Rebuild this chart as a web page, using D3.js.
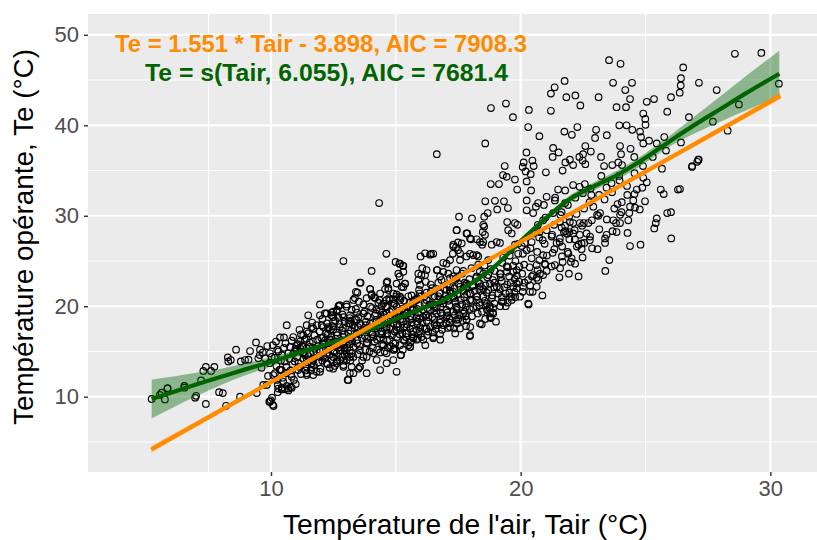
<!DOCTYPE html>
<html><head><meta charset="utf-8">
<script src="https://cdn.jsdelivr.net/npm/d3@7"></script>
<style>body{margin:0;background:#fff}svg{display:block}</style></head>
<body><svg id="c" width="817" height="540"></svg>
<script>
const obsUpper = [[16.64,36.8],[18.58,38.0],[18.81,41.9],[19.41,42.4],[19.69,40.9],[20.33,41.7],[20.3,39.8],[20.75,38.8],[21.21,43.5],[21.36,44.2],[21.21,41.6],[21.76,44.9],[21.83,43.1],[22.19,43.3],[22.39,42.2],[21.75,39.3],[22.05,38.95],[22.27,39.8],[22.59,37.7],[23.12,43.1],[23.54,47.2],[24.0,46.8],[23.7,44.7],[23.84,42.0],[24.19,43.9],[24.38,42.9],[24.22,42.0],[24.46,44.7],[23.95,40.0],[24.24,40.0],[24.47,39.5],[24.78,39.3],[24.82,38.7],[24.91,38.0],[25.14,38.3],[25.05,42.6],[25.34,42.9],[24.91,41.3],[24.99,40.7],[25.0,40.05],[25.87,41.5],[26.02,43.1],[26.37,43.6],[26.41,44.4],[26.42,45.2],[26.51,46.4],[27.14,44.7],[27.85,43.9],[26.74,40.9],[27.7,40.4],[28.58,47.9],[29.64,48.0],[28.74,42.3],[28.29,39.4],[30.34,44.6],[26.42,38.1],[25.75,38.7],[25.45,38.0],[25.82,37.2],[25.66,35.2],[24.9,35.5],[25.29,36.5],[24.91,34.2],[26.87,35.5],[27.13,36.2],[25.61,32.9],[25.73,32.4],[26.3,32.9],[24.55,36.5],[24.4,37.4],[23.98,37.7],[24.02,36.8],[23.91,35.9],[24.06,35.6],[23.67,35.6],[23.45,38.9],[23.22,36.5],[23.34,35.5],[23.02,39.5],[22.98,38.6],[22.81,37.1],[22.48,36.1],[22.59,35.7],[22.35,36.5],[22.5,36.8],[22.1,35.6],[21.97,36.2],[21.79,35.9],[21.3,37.5],[21.28,36.5],[21.52,37.0],[21.01,34.8],[20.47,36.1],[20.52,35.5],[20.4,34.6],[20.12,35.9],[20.23,37.0],[20.08,35.4],[20.2,34.9],[19.36,35.5],[19.29,34.5],[19.44,34.3],[19.77,34.0],[20.24,33.8],[18.8,33.5],[19.13,33.5],[19.86,32.9],[20.42,32.8],[21.68,35.0],[22.1,33.4],[22.36,33.2],[22.57,33.5],[22.8,33.0],[22.83,32.3],[23.23,34.4],[23.64,33.6],[24.27,32.3],[24.56,32.4],[24.87,33.1],[23.94,34.4],[21.5,32.9],[21.78,32.8],[21.04,32.1],[21.38,32.0],[27.11,36.2],[27.07,35.97],[26.86,35.4],[26.38,32.95],[14.33,31.4]];
const obsMiddle = [[14.62,25.8],[14.99,24.9],[15.14,24.7],[15.28,24.5],[15.3,23.8],[15.15,23.3],[15.37,22.5],[14.66,22.75],[14.57,21.9],[17.53,29.9],[18.05,29.7],[18.54,29.9],[18.68,30.3],[18.58,31.6],[18.97,31.65],[19.33,31.6],[19.06,30.7],[19.49,30.85],[17.44,28.4],[17.86,28.05],[18.01,27.4],[17.49,27.06],[17.3,26.6],[17.49,26.2],[18.37,27.1],[18.48,28.2],[18.54,28.8],[18.46,26.8],[17.28,25.8],[17.17,25.1],[16.9,24.8],[16.5,25.8],[16.41,25.8],[15.99,25.5],[16.06,24.2],[15.9,23.6],[16.02,23.45],[16.66,24.0],[16.77,23.3],[17.1,23.6],[17.57,25.1],[17.37,22.9],[17.97,25.8],[18.24,25.65],[18.84,26.8],[19.04,27.1],[19.17,27.0],[19.46,29.3],[19.77,29.2],[19.87,29.0],[19.5,28.4],[19.64,28.05],[19.77,26.8],[20.04,26.65],[19.9,25.8],[20.24,26.2],[20.24,30.6],[20.5,30.3],[20.61,31.0],[20.24,31.7],[20.7,31.4],[20.93,31.2],[21.37,31.7],[21.78,31.4],[20.9,29.5],[20.75,28.2],[20.88,27.3],[20.5,28.05],[20.44,27.1],[21.24,27.7],[21.44,27.0],[21.57,27.5],[21.73,28.2],[21.97,29.3],[22.1,29.2],[22.37,29.2],[22.53,29.2],[22.71,29.2],[21.79,28.3],[21.95,28.2],[22.1,28.05],[22.37,27.9],[22.17,27.4],[22.32,26.8],[22.44,26.3],[22.44,26.95],[22.77,27.3],[22.64,28.05],[22.86,26.4],[21.66,26.6],[21.91,25.8],[22.04,25.3],[22.01,24.9],[21.68,24.9],[21.37,24.55],[21.24,24.4],[21.04,23.9],[21.55,23.2],[21.93,23.6],[22.32,23.3],[20.3,22.9],[20.64,23.15],[20.48,21.6],[20.87,21.2],[20.32,20.2],[19.94,22.7],[19.7,22.15],[19.57,21.05],[19.64,20.7],[19.4,21.4],[19.24,20.5],[23.39,23.9],[23.55,25.1],[23.38,27.5],[23.44,27.9],[23.84,28.2],[23.71,29.5],[23.82,29.2],[24.31,29.5],[24.38,31.0],[24.51,31.7],[23.88,31.3],[24.04,30.4],[23.98,30.1],[24.77,30.7],[24.38,26.65],[24.8,26.8],[25.45,29.7],[25.41,29.2],[25.35,28.6],[25.87,30.3],[26.02,30.4],[26.03,27.5],[23.11,30.0],[22.91,31.0],[23.18,30.3],[21.57,29.3],[21.78,28.9],[21.3,30.3],[21.64,30.4],[18.77,20.0],[18.9,19.2],[18.8,18.7],[19.01,18.3],[18.44,18.0],[17.97,16.7],[17.81,17.8],[17.57,17.55],[17.33,17.55],[16.5,16.6],[15.57,15.5],[15.21,14.6],[14.94,15.2],[15.7,16.45],[16.03,16.6],[18.24,23.3],[18.37,22.5],[18.5,21.9],[18.7,23.45],[18.77,22.5],[19.17,23.6],[19.04,22.15],[19.44,24.4],[19.7,23.8]];
const obsLeft = [[5.22,9.75],[5.55,10.2],[5.75,9.7],[5.85,10.9],[5.62,10.45],[6.53,11.0],[7.0,10.1],[6.96,9.9],[7.2,11.8],[7.29,12.85],[7.39,13.3],[7.6,12.85],[7.73,13.3],[7.39,9.2],[7.92,10.5],[8.07,10.4],[8.27,14.35],[8.39,14.05],[8.29,13.9],[8.6,15.2],[8.76,10.0],[8.2,9.0],[8.79,13.9],[8.96,14.05],[9.1,14.1],[9.16,15.05],[9.4,16.0],[9.56,15.2],[9.67,14.9],[9.43,10.4],[9.69,11.3],[9.83,11.3],[9.49,14.25],[9.76,14.25],[9.96,14.8],[10.03,14.4],[10.1,8.97],[9.96,9.45],[10.16,12.6],[10.36,12.95],[10.07,15.7],[10.2,16.1],[10.36,16.55],[10.52,16.55],[10.63,17.9],[10.27,11.3],[10.29,10.9],[10.43,11.0],[10.63,11.2],[10.83,11.0],[10.92,11.85],[10.7,10.9],[10.49,11.65],[10.23,11.85],[10.89,14.8],[11.16,15.35],[11.29,15.5],[11.43,15.35],[11.56,14.8],[11.03,15.7],[11.29,16.8],[11.43,17.9],[11.43,13.3],[11.63,13.7],[11.83,12.75],[11.69,12.4],[11.43,12.4],[11.96,19.0],[11.49,19.0],[11.96,20.2],[11.69,17.55],[12.03,17.9],[12.29,17.7],[12.49,18.3],[12.09,16.6],[12.36,16.3],[12.63,16.1],[12.76,15.5],[12.96,15.15],[12.16,14.25],[12.43,14.05],[12.63,13.7],[12.9,13.3],[13.03,14.05],[13.23,13.3],[13.1,11.85],[13.3,12.6],[13.5,13.1],[12.76,20.1],[13.03,19.95],[13.16,19.0],[13.36,18.5],[13.1,18.1],[12.23,19.2],[12.43,19.0],[12.63,19.4],[5.86,10.95],[6.53,11.2],[9.99,9.6],[9.93,9.45],[10.07,9.1],[10.04,9.9],[10.27,10.5],[10.43,10.8],[10.56,10.85],[10.7,10.7],[10.79,11.1],[10.99,11.4],[13.07,11.85]];
const obsCore = [[12.73,20.1],[13.03,20.2],[13.3,20.7],[13.46,21.5],[13.59,22.6],[13.97,21.9],[14.03,21.2],[14.17,20.9],[14.63,22.6],[14.7,21.8],[14.9,21.4],[15.03,21.1],[12.16,19.2],[12.43,19.3],[12.7,18.8],[11.2,16.9],[11.43,17.2],[11.63,17.7],[11.83,17.9],[12.09,17.7],[12.29,17.55],[10.09,12.4],[10.43,12.95],[10.83,12.2],[11.09,12.95],[11.43,12.6],[11.63,13.25],[11.96,12.75],[12.23,13.7],[12.49,13.1],[12.76,14.05],[13.16,12.6],[13.56,13.3],[13.83,14.4],[14.23,14.05],[14.63,14.8],[14.97,15.35],[10.76,15.5],[11.03,15.15],[11.29,14.8],[11.56,15.5],[11.83,15.0],[12.09,15.9],[12.36,15.5],[12.63,16.1],[12.9,16.6],[13.16,16.3],[13.43,17.0],[13.7,17.4],[13.97,18.1],[14.23,18.5],[14.5,18.8],[14.76,19.4],[15.03,19.95],[10.89,16.6],[11.16,16.1],[11.43,14.05],[11.69,14.05],[11.96,14.4],[12.23,14.8],[12.49,14.4],[12.76,15.15],[13.03,14.8],[13.3,15.5],[13.56,15.15],[13.83,15.9],[14.1,16.6],[14.37,17.0],[14.63,17.4],[14.9,18.1],[13.43,18.5],[13.7,19.2],[13.97,19.95],[14.23,19.6],[14.5,20.3],[14.76,20.7],[14.37,21.4],[13.16,18.1],[12.76,17.7],[12.49,17.4],[12.9,18.8],[12.49,18.8],[14.63,13.7],[14.9,14.05],[15.03,12.75],[14.37,12.95],[13.83,12.6],[13.16,14.4],[12.9,13.5],[15.17,15.7],[15.17,17.4],[15.17,19.2],[15.17,21.05],
[12.9,25.0],[14.03,23.9],[13.56,22.6],[13.4,21.6],[13.36,20.9],[12.7,20.0],[12.49,19.4],[12.43,19.0],[13.97,21.9],[14.03,21.35],[14.34,20.7],[14.7,22.0],[15.17,24.7],[15.3,24.45],[15.1,23.6],[15.03,22.5],[15.23,22.15],[15.37,22.5],[15.9,22.9],[15.97,22.35],[16.17,23.45],[16.23,24.0],[16.17,25.85],[16.37,25.7],[16.64,24.0],[16.9,23.8],[17.03,24.7],[17.43,24.0],[17.17,23.1],[17.43,28.4],[17.83,28.05],[17.97,27.5],[18.24,27.4],[18.5,27.1],[18.57,27.9],[18.5,29.0],[17.3,26.8],[17.41,26.5],[17.64,26.95],[17.57,25.85],[17.83,25.5],[18.1,25.65],[18.3,25.5],[17.83,22.15],[17.97,21.4],[18.24,21.05],[18.5,21.05],[18.64,20.3],[18.24,19.95],[17.97,20.7],[17.83,18.5],[17.97,16.8],[18.37,18.1],[18.77,18.8],[18.9,19.8],[18.77,19.2],[19.3,20.5],[19.64,21.05],[19.97,21.05],[20.3,20.3],[20.37,21.6],[19.84,22.5],[20.1,22.15],[20.64,22.15],[20.5,23.45],[20.9,23.45],[20.7,22.9],[20.9,25.65],[20.64,24.55],[20.97,24.7],[20.77,23.6],[15.19,14.6],[14.9,15.2],[15.57,15.5],[14.5,15.7],[13.7,14.4],[14.1,14.8],[13.56,13.3],[12.9,14.05],[12.63,14.8],[13.16,15.15],[16.5,16.45],[16.37,17.7],[16.77,18.5],[15.97,17.7],[15.57,18.5],[17.03,18.8],[17.43,19.6],[17.7,19.2],[17.17,17.7],[16.77,16.95],[15.83,16.3],[15.43,17.0],[16.1,18.8],[15.7,19.6],[15.17,18.5],[16.23,20.7],[16.64,19.95],[15.83,20.7],[16.37,19.6],[15.43,19.95],[16.9,20.7],[17.3,21.05],[17.17,22.15],
[14.63,20.7],[14.9,20.3],[15.17,20.7],[15.43,19.95],[15.7,20.5],[15.97,21.05],[16.5,21.05],[16.77,21.4],[17.03,21.8],[17.3,21.6],[17.57,22.15],[17.83,22.5],[18.1,22.3],[14.63,19.2],[15.03,18.8],[15.43,19.2],[15.83,18.8],[16.23,19.0],[16.64,19.2],[17.03,19.6],[17.43,19.95],[17.83,20.3],[18.24,20.7],[14.63,17.7],[15.03,17.4],[15.43,17.7],[15.83,17.4],[16.23,17.55],[16.64,17.9],[17.03,18.1],[17.43,18.5],[17.83,18.5],[14.5,16.3],[14.9,15.9],[15.3,16.3],[15.7,16.6],[16.1,16.3]];
const obsDense = [[9.62,13.2],[9.55,14.6],[9.88,12.3],[9.94,13.7],[9.85,15.6],[10.22,13.4],[10.14,14.3],[10.25,15.2],[10.47,12.1],[10.55,13.9],[10.44,14.6],[10.58,15.9],[10.78,12.9],[10.86,13.6],[10.74,14.2],[10.83,16.2],[11.12,13.3],[11.05,14.4],[11.18,15.0],[11.08,15.8],[11.14,17.4],[11.38,12.9],[11.46,13.8],[11.35,14.6],[11.42,16.4],[11.48,17.0],[11.72,13.5],[11.66,14.2],[11.75,15.3],[11.68,16.1],[11.74,16.8],[11.65,18.2],[11.98,13.1],[12.05,14.0],[11.94,15.2],[12.07,15.8],[12.02,16.5],[11.95,17.2],[12.06,18.6],[12.27,13.6],[12.34,14.6],[12.25,15.4],[12.33,16.0],[12.28,16.9],[12.36,17.4],[12.24,18.1],[12.62,13.9],[12.55,14.9],[12.66,15.7],[12.58,16.4],[12.64,17.1],[12.57,18.4],[12.65,19.6],[12.87,14.4],[12.94,15.4],[12.85,15.9],[12.93,16.9],[12.88,17.6],[12.95,18.3],[12.86,19.1],[13.18,14.0],[13.25,14.8],[13.16,15.8],[13.24,16.6],[13.2,17.3],[13.27,17.9],[13.15,18.7],[13.23,19.6],[13.47,14.7],[13.55,15.6],[13.45,16.3],[13.53,16.9],[13.48,17.7],[13.56,18.1],[13.44,19.3],[13.52,20.5],[13.78,15.2],[13.85,16.0],[13.76,16.7],[13.84,17.3],[13.79,17.9],[13.86,18.9],[13.75,19.4],[13.83,20.9],[14.08,15.4],[14.15,16.1],[14.06,16.9],[14.14,17.5],[14.09,18.2],[14.16,19.0],[14.05,19.8],[14.13,21.0],[14.38,14.9],[14.45,15.8],[14.36,16.5],[14.44,17.2],[14.39,17.9],[14.46,18.6],[14.35,19.5],[14.43,20.0],[14.68,15.4],[14.75,16.3],[14.66,17.0],[14.74,17.6],[14.69,18.3],[14.76,19.0],[14.65,19.9],[14.73,20.9],[14.98,15.9],[15.05,16.6],[14.96,17.2],[15.04,18.0],[14.99,18.6],[15.06,19.2],[14.95,20.3],[15.03,21.3],[15.28,15.2],[15.35,16.2],[15.26,17.0],[15.34,17.7],[15.29,18.3],[15.36,19.0],[15.25,19.7],[15.33,20.6],[15.3,22.1],[15.58,16.0],[15.65,16.9],[15.56,17.5],[15.64,18.2],[15.59,18.9],[15.66,19.6],[15.55,20.4],[15.63,21.2],[15.88,16.4],[15.95,17.2],[15.86,18.0],[15.94,18.6],[15.89,19.3],[15.96,20.1],[15.85,20.9],[15.93,21.8],[16.18,15.7],[16.25,16.8],[16.16,17.5],[16.24,18.4],[16.19,19.0],[16.26,19.8],[16.15,20.3],[16.23,21.5],[16.2,22.7],[16.48,17.1],[16.55,18.0],[16.46,18.8],[16.54,19.5],[16.49,20.2],[16.56,21.1],[16.45,22.0],[16.78,16.3],[16.85,17.4],[16.76,18.2],[16.84,19.0],[16.79,19.9],[16.86,20.6],[16.75,21.5],[16.83,22.9],[17.08,17.6],[17.15,18.6],[17.06,19.3],[17.14,20.1],[17.09,20.9],[17.16,21.7],[17.05,22.4],[17.38,17.0],[17.45,18.1],[17.36,19.0],[17.44,19.8],[17.39,20.5],[17.46,21.3],[17.35,22.0],[17.43,23.1],[17.68,18.4],[17.75,19.4],[17.66,20.2],[17.74,21.0],[17.69,21.8],[17.76,22.6],[17.65,23.6],[17.98,17.7],[18.05,18.9],[17.96,19.7],[18.04,20.6],[17.99,21.4],[18.06,22.2],[17.95,23.0],[18.03,24.2],[18.28,19.2],[18.35,20.1],[18.26,21.1],[18.34,21.9],[18.29,22.7],[18.36,23.8],[18.58,18.6],[18.65,19.6],[18.56,20.6],[18.64,21.5],[18.59,22.3],[18.66,23.2],[18.55,24.5],[18.88,19.3],[18.95,20.3],[18.86,21.2],[18.94,22.1],[18.89,22.9],[18.96,23.9],[19.18,20.0],[19.25,21.0],[19.16,21.9],[19.24,22.8],[19.19,23.6],[19.26,24.8],[19.48,20.4],[19.55,21.5],[19.46,22.4],[19.54,23.3],[19.49,24.3],[19.56,25.6],[19.78,21.0],[19.85,22.0],[19.76,23.0],[19.84,24.0],[19.79,25.0],[20.08,21.6],[20.15,22.6],[20.06,23.6],[20.14,24.6],[20.09,25.8],[20.16,27.0],[20.38,22.3],[20.45,23.3],[20.36,24.3],[20.44,25.3],[20.39,26.4],[20.68,24.0],[20.75,25.1],[20.66,26.0],[20.74,27.6],[20.69,29.0],[20.98,24.6],[21.05,25.6],[20.96,26.9],[21.04,28.4],[20.99,29.8],[21.28,25.9],[21.35,26.3],[21.26,27.9],[21.34,29.0],[21.58,24.2],[21.65,25.5],[21.56,27.1],[21.64,28.7],[21.59,30.1],[21.88,26.0],[21.95,27.4],[21.86,28.0],[21.94,29.9],[21.89,31.2],[22.18,24.7],[22.25,26.6],[22.16,28.4],[22.24,30.2],[22.19,32.0],[22.48,25.4],[22.55,27.0],[22.46,28.9],[22.54,30.8],[22.49,32.5],[22.78,27.7],[22.85,29.5],[22.76,31.5],[23.08,26.3],[23.15,28.5],[23.06,30.1],[23.14,32.3],[23.38,27.0],[23.45,29.6],[23.36,31.8],[23.44,33.1],[23.68,28.3],[23.75,30.8],[23.66,32.6],[23.98,29.2],[24.05,31.5],[23.96,33.9],[24.28,28.1],[24.35,30.3],[24.26,33.3],[24.58,30.9],[24.65,32.9],[24.56,34.7],[24.98,31.6],[25.05,33.7]];
const obsDense2 = [[10.35,13.0],[10.62,13.3],[10.95,13.9],[10.4,14.0],[10.7,14.8],[10.98,15.3],[10.3,15.0],[10.52,15.4],[10.81,12.5],[10.6,12.6],[11.1,13.7],[11.3,14.2],[11.5,14.5],[11.7,14.9],[11.9,13.8],[11.25,15.6],[11.55,16.0],[11.85,16.3],[11.2,12.5],[11.6,12.9],[11.9,15.6],[11.35,16.3],[12.1,14.5],[12.3,15.2],[12.5,15.0],[12.7,15.4],[12.9,15.7],[12.15,16.2],[12.4,16.6],[12.65,16.8],[12.85,17.3],[12.2,17.0],[12.45,17.8],[12.75,18.0],[12.55,13.4],[12.95,14.6],[12.35,13.2],[13.05,15.4],[13.25,16.1],[13.45,15.9],[13.65,16.5],[13.85,16.4],[13.1,17.0],[13.35,17.6],[13.6,17.9],[13.9,17.6],[13.2,18.4],[13.5,18.8],[13.8,18.3],[13.3,14.4],[13.65,14.0],[13.95,15.0],[13.4,19.7],[13.7,20.2],[14.05,17.1],[14.25,16.3],[14.45,16.9],[14.65,16.2],[14.85,16.8],[14.15,17.8],[14.35,18.3],[14.55,17.6],[14.8,18.5],[14.2,19.2],[14.5,19.1],[14.85,19.6],[14.3,20.4],[14.6,20.0],[14.9,20.8],[14.25,15.2],[14.55,15.0],[14.8,15.6],[15.05,17.7],[15.25,18.6],[15.45,18.0],[15.65,18.7],[15.85,18.3],[15.1,19.5],[15.35,19.4],[15.6,19.9],[15.85,19.7],[15.2,20.9],[15.5,21.1],[15.75,20.7],[15.95,21.4],[15.15,16.9],[15.4,16.6],[15.7,17.2],[15.9,16.9],[15.5,15.7],[16.05,18.2],[16.3,18.8],[16.55,18.5],[16.8,19.3],[16.1,19.6],[16.35,20.2],[16.6,19.8],[16.9,20.3],[16.15,21.1],[16.4,21.6],[16.7,21.1],[16.95,21.9],[16.3,17.2],[16.6,17.5],[16.9,17.9],[16.4,22.4],[16.7,22.6],[17.05,19.0],[17.3,19.4],[17.55,19.0],[17.8,19.9],[17.1,20.6],[17.35,20.9],[17.6,20.7],[17.85,21.3],[17.2,21.5],[17.5,22.5],[17.75,22.3],[17.15,18.2],[17.5,18.6],[17.8,18.9],[17.3,23.3],[17.7,23.9],[18.1,19.8],[18.35,20.4],[18.6,20.1],[18.85,20.9],[18.15,21.7],[18.4,22.2],[18.7,21.8],[18.95,22.6],[18.2,23.1],[18.5,23.6],[18.8,24.1],[18.45,19.4],[18.75,19.8],[18.3,24.6],[18.7,25.1],[19.1,21.4],[19.35,22.1],[19.6,22.6],[19.85,23.4],[19.2,23.2],[19.45,23.8],[19.7,24.5],[19.95,24.4],[19.3,25.4],[19.6,26.2],[19.9,26.9],[19.4,20.0],[19.75,21.6]];

// ---- linear model Te = 1.551*Tair - 3.898 with its confidence band ----
const lmX   = [5.2, 10, 15, 17, 20, 25, 30.4];
const lmFit = [4.17, 11.61, 19.37, 22.47, 27.12, 34.88, 43.25];
const lmLo  = [3.8, 11.4, 19.23, 22.35, 26.98, 34.65, 42.88];
const lmHi  = [4.55, 11.85, 19.5, 22.6, 27.27, 35.1, 43.63];

// ---- GAM smooth s(Tair) with its confidence band ----
const gamX   = [5.22, 6, 7, 8, 9, 10, 11, 12, 13, 14, 15, 16, 17, 18, 19, 20, 21, 22, 23, 24, 25, 26, 27, 28, 29, 30.36];
const gamFit = [9.75, 10.45, 11.35, 12.2, 13.05, 13.85, 14.75, 15.6, 16.5, 17.45, 18.6, 19.7, 20.8, 22.5, 24.5, 27.2, 29.7, 31.9, 33.35, 34.7, 36.4, 38.3, 40.1, 41.8, 43.5, 45.7];
const gamLo  = [7.6, 8.7, 10.05, 11.3, 12.4, 13.35, 14.35, 15.3, 16.25, 17.2, 18.35, 19.45, 20.55, 22.2, 24.2, 26.9, 29.35, 31.5, 32.9, 34.2, 35.85, 37.7, 39.15, 40.4, 41.6, 43.15];
const gamHi  = [11.9, 12.2, 12.65, 13.1, 13.7, 14.35, 15.15, 15.9, 16.75, 17.7, 18.85, 19.95, 21.05, 22.8, 24.8, 27.5, 30.05, 32.3, 33.8, 35.2, 36.95, 38.9, 41.05, 43.2, 45.4, 48.25];

const xTicks = [10, 20, 30], xMinor = [7.5, 15, 25, 32.5];
const yTicks = [10, 20, 30, 40, 50], yMinor = [5, 15, 25, 35, 45];
const lmLabel = "Te = 1.551 * Tair - 3.898, AIC = 7908.3";
const gamLabel = "Te = s(Tair, 6.055), AIC = 7681.4";
const xTitle = "Température de l'air, Tair (°C)";
const yTitle = "Température opérante, Te (°C)";

// ---- drawing ----
const svg = d3.select("#c");
const P = {l: 88, r: 842, t: 14, b: 472};
const x = d3.scaleLinear().domain([2.67, 32.87]).range([P.l, P.r]);
const y = d3.scaleLinear().domain([1.68, 52.3]).range([P.b, P.t]);
const FONT = "'Liberation Sans', Arial, Helvetica, sans-serif";

svg.append("rect").attr("width", 817).attr("height", 540).attr("fill", "#fff");
svg.append("defs").append("clipPath").attr("id", "pc").append("rect")
  .attr("x", P.l).attr("y", P.t).attr("width", P.r - P.l).attr("height", P.b - P.t);
svg.append("rect").attr("x", P.l).attr("y", P.t).attr("width", P.r - P.l).attr("height", P.b - P.t).attr("fill", "#EBEBEB");

const grid = svg.append("g").attr("clip-path", "url(#pc)");
grid.selectAll(".xm").data(xMinor).join("line").attr("x1", d => x(d)).attr("x2", d => x(d)).attr("y1", P.t).attr("y2", P.b).attr("stroke", "#fff").attr("stroke-width", 1.1);
grid.selectAll(".ym").data(yMinor).join("line").attr("y1", d => y(d)).attr("y2", d => y(d)).attr("x1", P.l).attr("x2", P.r).attr("stroke", "#fff").attr("stroke-width", 1.1);
grid.selectAll(".xM").data(xTicks).join("line").attr("x1", d => x(d)).attr("x2", d => x(d)).attr("y1", P.t).attr("y2", P.b).attr("stroke", "#fff").attr("stroke-width", 2.2);
grid.selectAll(".yM").data(yTicks).join("line").attr("y1", d => y(d)).attr("y2", d => y(d)).attr("x1", P.l).attr("x2", P.r).attr("stroke", "#fff").attr("stroke-width", 2.2);

const pts = [].concat(obsUpper, obsMiddle, obsLeft, obsCore, obsDense, obsDense2);
const plot = svg.append("g").attr("clip-path", "url(#pc)");
plot.selectAll("circle").data(pts).join("circle")
  .attr("cx", d => x(d[0])).attr("cy", d => y(d[1])).attr("r", 3.3)
  .attr("fill", "none").attr("stroke", "#000").attr("stroke-width", 1.15);

const curve = d3.curveCatmullRom;
const gam = gamX.map((v, i) => ({x: v, f: gamFit[i], lo: gamLo[i], hi: gamHi[i]}));
const lm = lmX.map((v, i) => ({x: v, f: lmFit[i], lo: lmLo[i], hi: lmHi[i]}));
const area = d3.area().x(d => x(d.x)).y0(d => y(d.lo)).y1(d => y(d.hi)).curve(curve);
const line = d3.line().x(d => x(d.x)).y(d => y(d.f)).curve(curve);

plot.append("path").datum(gam).attr("d", area).attr("fill", "#006400").attr("fill-opacity", 0.4);
plot.append("path").datum(gam).attr("d", line).attr("fill", "none").attr("stroke", "#006400").attr("stroke-width", 4.2);
plot.append("path").datum(lm).attr("d", area).attr("fill", "#FF8C00").attr("fill-opacity", 0.4);
plot.append("path").datum(lm).attr("d", line).attr("fill", "none").attr("stroke", "#FF8C00").attr("stroke-width", 4.2);

// annotations
svg.append("text").attr("x", 321).attr("y", 52).attr("text-anchor", "middle")
  .attr("textLength", 412).attr("lengthAdjust", "spacingAndGlyphs")
  .attr("font-family", FONT).attr("font-weight", "bold").attr("font-size", 23.5).attr("fill", "#FF8C00").text(lmLabel);
svg.append("text").attr("x", 326.5).attr("y", 80.5).attr("text-anchor", "middle")
  .attr("textLength", 363).attr("lengthAdjust", "spacingAndGlyphs")
  .attr("font-family", FONT).attr("font-weight", "bold").attr("font-size", 23.5).attr("fill", "#006400").text(gamLabel);

// axes
const xAxis = svg.append("g").attr("transform", `translate(0,${P.b})`)
  .call(d3.axisBottom(x).tickValues(xTicks).tickSize(4).tickPadding(4).tickFormat(d3.format("d")));
const yAxis = svg.append("g").attr("transform", `translate(${P.l},0)`)
  .call(d3.axisLeft(y).tickValues(yTicks).tickSize(4).tickPadding(5).tickFormat(d3.format("d")));
[xAxis, yAxis].forEach(a => {
  a.select(".domain").remove();
  a.selectAll(".tick line").attr("stroke", "#333333").attr("stroke-width", 1.4);
  a.selectAll(".tick text").attr("fill", "#4D4D4D").attr("font-size", 22).attr("font-family", FONT);
});

svg.append("text").attr("x", 465.5).attr("y", 533.5).attr("text-anchor", "middle")
  .attr("textLength", 365).attr("lengthAdjust", "spacingAndGlyphs")
  .attr("font-family", FONT).attr("font-size", 27).attr("fill", "#000").text(xTitle);
svg.append("text").attr("transform", "translate(33,237) rotate(-90)").attr("text-anchor", "middle")
  .attr("textLength", 376).attr("lengthAdjust", "spacingAndGlyphs")
  .attr("font-family", FONT).attr("font-size", 27).attr("fill", "#000").text(yTitle);
</script></body></html>
